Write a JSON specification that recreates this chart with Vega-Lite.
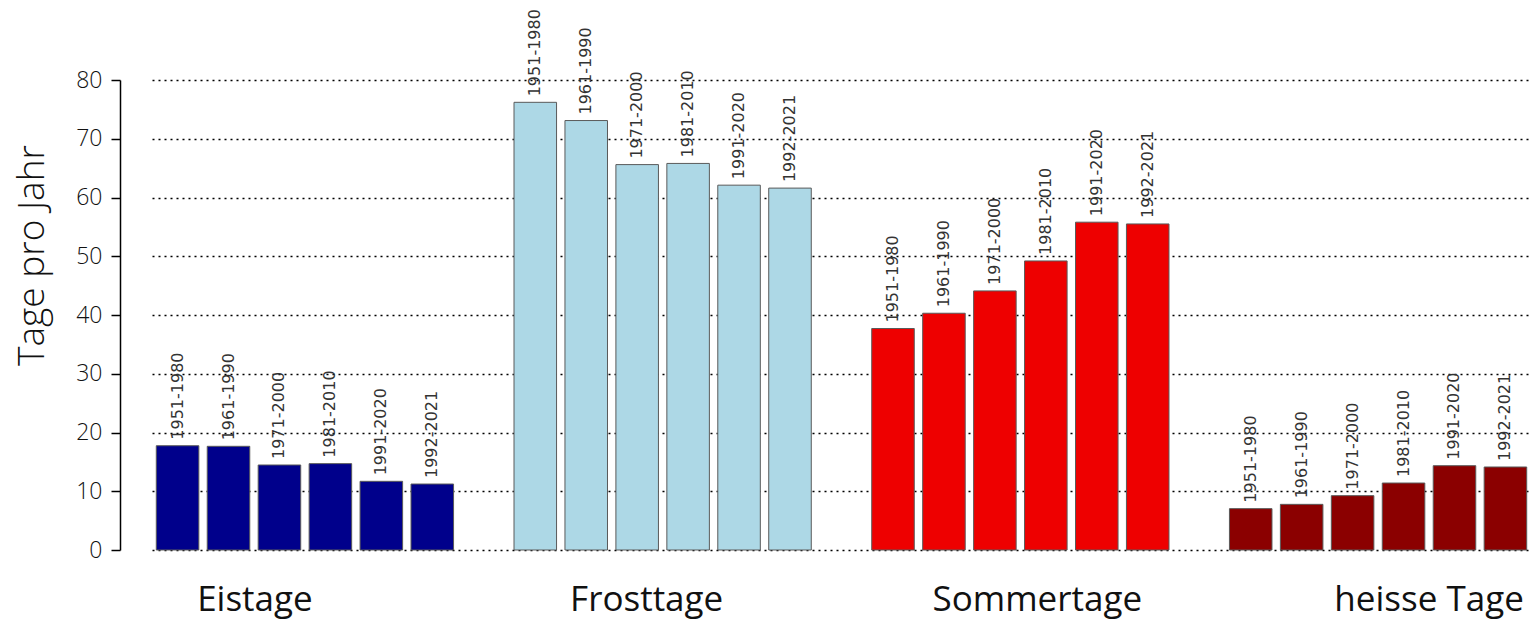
{
  "$schema": "https://vega.github.io/schema/vega-lite/v6.json",
  "width": 1379,
  "height": 470,
  "autosize": {"type": "none"},
  "padding": {"left": 152, "top": 80, "right": 0, "bottom": 71},
  "background": "white",
  "config": {"view": {"stroke": null}, "font": "Open Sans"},
  "data": {"values": [
    {"kategorie": "Eistage", "periode": "1951-1980", "tage": 17.75},
    {"kategorie": "Eistage", "periode": "1961-1990", "tage": 17.65},
    {"kategorie": "Eistage", "periode": "1971-2000", "tage": 14.47},
    {"kategorie": "Eistage", "periode": "1981-2010", "tage": 14.7},
    {"kategorie": "Eistage", "periode": "1991-2020", "tage": 11.69},
    {"kategorie": "Eistage", "periode": "1992-2021", "tage": 11.23},
    {"kategorie": "Frosttage", "periode": "1951-1980", "tage": 76.2},
    {"kategorie": "Frosttage", "periode": "1961-1990", "tage": 73.1},
    {"kategorie": "Frosttage", "periode": "1971-2000", "tage": 65.6},
    {"kategorie": "Frosttage", "periode": "1981-2010", "tage": 65.8},
    {"kategorie": "Frosttage", "periode": "1991-2020", "tage": 62.1},
    {"kategorie": "Frosttage", "periode": "1992-2021", "tage": 61.6},
    {"kategorie": "Sommertage", "periode": "1951-1980", "tage": 37.7},
    {"kategorie": "Sommertage", "periode": "1961-1990", "tage": 40.3},
    {"kategorie": "Sommertage", "periode": "1971-2000", "tage": 44.1},
    {"kategorie": "Sommertage", "periode": "1981-2010", "tage": 49.2},
    {"kategorie": "Sommertage", "periode": "1991-2020", "tage": 55.8},
    {"kategorie": "Sommertage", "periode": "1992-2021", "tage": 55.5},
    {"kategorie": "heisse Tage", "periode": "1951-1980", "tage": 7.04},
    {"kategorie": "heisse Tage", "periode": "1961-1990", "tage": 7.77},
    {"kategorie": "heisse Tage", "periode": "1971-2000", "tage": 9.25},
    {"kategorie": "heisse Tage", "periode": "1981-2010", "tage": 11.4},
    {"kategorie": "heisse Tage", "periode": "1991-2020", "tage": 14.35},
    {"kategorie": "heisse Tage", "periode": "1992-2021", "tage": 14.13}
  ]},
  "encoding": {
    "x": {
      "field": "kategorie",
      "type": "nominal",
      "sort": ["Eistage", "Frosttage", "Sommertage", "heisse Tage"],
      "scale": {"paddingInner": 0.169, "paddingOuter": 0.012},
      "title": null,
      "axis": {
        "domain": false,
        "ticks": false,
        "tickSize": 0,
        "grid": false,
        "labelAngle": 0,
        "labelLimit": 0,
        "labelFont": "Open Sans",
        "labelFontSize": 35,
        "labelFontWeight": 400,
        "labelColor": "#111",
        "labelBaseline": "alphabetic",
        "labelPadding": 60,
        "labelOffset": {
          "condition": [
            {"test": "datum.value === 'Eistage'", "value": -50},
            {"test": "datum.value === 'Frosttage'", "value": -16},
            {"test": "datum.value === 'Sommertage'", "value": 17}
          ],
          "value": 51
        }
      }
    },
    "xOffset": {
      "field": "periode",
      "type": "nominal",
      "sort": ["1951-1980", "1961-1990", "1971-2000", "1981-2010", "1991-2020", "1992-2021"],
      "scale": {"paddingInner": 0.165, "paddingOuter": 0}
    },
    "y": {
      "field": "tage",
      "type": "quantitative",
      "scale": {"domain": [0, 80], "nice": false},
      "title": "Tage pro Jahr",
      "axis": {
        "values": [0, 10, 20, 30, 40, 50, 60, 70, 80],
        "offset": 32,
        "domainColor": "black",
        "domainWidth": 1.5,
        "tickColor": "black",
        "tickWidth": 1.5,
        "tickSize": 9,
        "labelPadding": 9,
        "labelFont": "Open Sans",
        "labelFontSize": 23,
        "labelFontWeight": 300,
        "labelColor": "#111",
        "grid": true,
        "gridColor": "black",
        "gridDash": [2, 4],
        "gridWidth": 1.3,
        "titleFont": "Open Sans",
        "titleFontSize": 37,
        "titleFontWeight": 300,
        "titleColor": "#111",
        "titleX": -77,
        "titleY": 175,
        "titleBaseline": "alphabetic",
        "titleAlign": "center",
        "titleAngle": 270,
        "titleLimit": 0
      }
    }
  },
  "layer": [
    {
      "mark": {"type": "bar", "stroke": "#5a5a5a", "strokeWidth": 1},
      "encoding": {
        "color": {
          "field": "kategorie",
          "type": "nominal",
          "scale": {
            "domain": ["Eistage", "Frosttage", "Sommertage", "heisse Tage"],
            "range": ["#00008B", "#ADD8E6", "#EE0000", "#8B0000"]
          },
          "legend": null
        }
      }
    },
    {
      "mark": {
        "type": "text",
        "angle": 270,
        "align": "left",
        "baseline": "middle",
        "dx": 6,
        "font": "DejaVu Sans",
        "fontSize": 16,
        "color": "#333"
      },
      "encoding": {"text": {"field": "periode", "type": "nominal"}}
    }
  ]
}
